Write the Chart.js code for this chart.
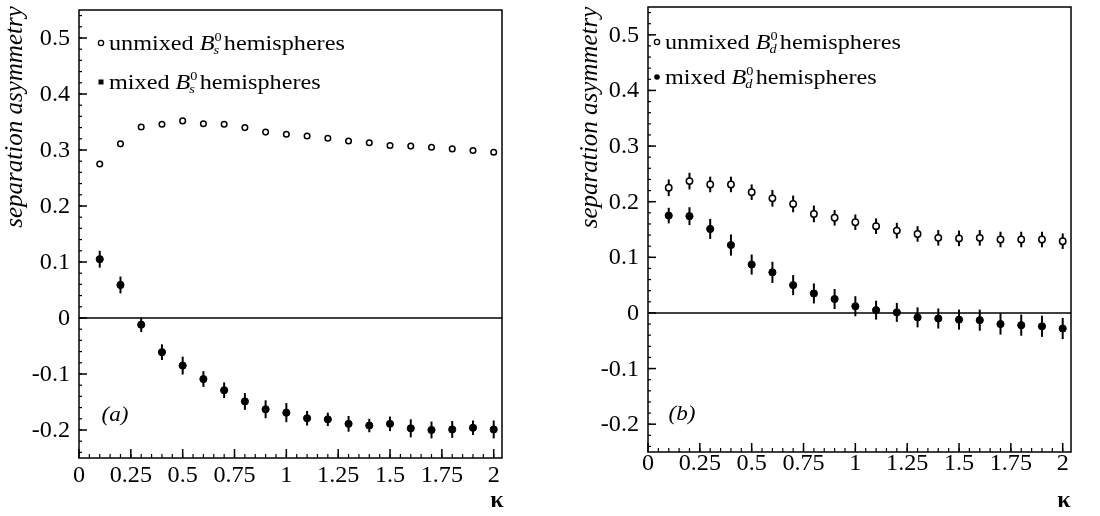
<!DOCTYPE html>
<html>
<head>
<meta charset="utf-8">
<script src="https://cdn.jsdelivr.net/npm/chart.js@4.4.1/dist/chart.umd.min.js"></script>
<style>
  body { margin: 0; background: #fff; }
  .panel { position: absolute; top: 0; width: 550px; height: 516px; }
  #wrapA { left: 0; }
  #wrapB { left: 550px; }
</style>
</head>
<body>
<div class="panel" id="wrapA"><canvas id="chartA" width="550" height="516"></canvas></div>
<div class="panel" id="wrapB"><canvas id="chartB" width="550" height="516"></canvas></div>
<script>
// kappa values of the jet-charge weighting
const kappa = [0.1, 0.2, 0.3, 0.4, 0.5, 0.6, 0.7, 0.8, 0.9, 1.0,
               1.1, 1.2, 1.3, 1.4, 1.5, 1.6, 1.7, 1.8, 1.9, 2.0];

// panel (a)
const unmixedA = [0.275, 0.311, 0.341, 0.346, 0.352, 0.347, 0.346, 0.340, 0.332, 0.328,
                  0.325, 0.321, 0.316, 0.313, 0.308, 0.307, 0.305, 0.302, 0.299, 0.296];
const unmixedAErr = [0.004, 0.004, 0.004, 0.004, 0.004, 0.004, 0.004, 0.004, 0.004, 0.004,
                     0.004, 0.004, 0.004, 0.004, 0.004, 0.004, 0.004, 0.004, 0.004, 0.004];
const mixedA = [0.105, 0.059, -0.012, -0.061, -0.085, -0.109, -0.129, -0.149, -0.163, -0.169,
                -0.179, -0.181, -0.189, -0.192, -0.189, -0.197, -0.200, -0.199, -0.196, -0.199];
const mixedAErr = [0.015, 0.015, 0.013, 0.014, 0.016, 0.014, 0.014, 0.015, 0.016, 0.017,
                   0.013, 0.012, 0.014, 0.012, 0.013, 0.016, 0.015, 0.015, 0.013, 0.016];

// panel (b)
const unmixedB = [0.225, 0.237, 0.231, 0.231, 0.217, 0.206, 0.196, 0.178, 0.171, 0.163,
                  0.156, 0.148, 0.142, 0.135, 0.134, 0.135, 0.132, 0.132, 0.132, 0.129];
const unmixedBErr = [0.015, 0.015, 0.014, 0.014, 0.014, 0.015, 0.015, 0.015, 0.014, 0.014,
                     0.014, 0.014, 0.014, 0.014, 0.014, 0.014, 0.014, 0.014, 0.014, 0.014];
const mixedB = [0.175, 0.174, 0.151, 0.122, 0.087, 0.073, 0.050, 0.035, 0.025, 0.012,
                0.005, 0.001, -0.008, -0.010, -0.012, -0.013, -0.020, -0.022, -0.024, -0.028];
const mixedBErr = [0.014, 0.016, 0.018, 0.019, 0.018, 0.019, 0.018, 0.018, 0.018, 0.018,
                   0.017, 0.017, 0.018, 0.018, 0.018, 0.019, 0.019, 0.019, 0.019, 0.019];

const xTicks = [0, 0.25, 0.5, 0.75, 1, 1.25, 1.5, 1.75, 2];
const xTickLabels = ['0', '0.25', '0.5', '0.75', '1', '1.25', '1.5', '1.75', '2'];
const yTicks = [-0.2, -0.1, 0, 0.1, 0.2, 0.3, 0.4, 0.5];
const yTickLabels = ['-0.2', '-0.1', '0', '0.1', '0.2', '0.3', '0.4', '0.5'];

const SERIF = '"Liberation Serif", "Times New Roman", Times, serif';

function stretchText(ctx, str, x, y, font, sx, align, baseline) {
  ctx.save();
  ctx.translate(x, y);
  ctx.scale(sx, 1);
  ctx.font = font;
  ctx.textAlign = align || 'left';
  ctx.textBaseline = baseline || 'middle';
  ctx.fillText(str, 0, 0);
  ctx.restore();
}

function legendRow(ctx, x, y, word, sub) {
  ctx.save();
  ctx.translate(x, y + 7);
  ctx.scale(1.1, 1);
  ctx.textBaseline = 'alphabetic';
  ctx.fillStyle = '#000';
  let cx = 0;
  ctx.font = '22px ' + SERIF;
  ctx.fillText(word + ' ', cx, 0);
  cx += ctx.measureText(word + ' ').width;
  ctx.font = 'italic 22px ' + SERIF;
  ctx.fillText('B', cx, 0);
  cx += ctx.measureText('B').width;
  ctx.font = '13px ' + SERIF;
  ctx.fillText('0', cx, -9);
  ctx.font = 'italic 13px ' + SERIF;
  ctx.fillText(sub, cx - 1, 4);
  cx += ctx.measureText('0').width + 2;
  ctx.font = '22px ' + SERIF;
  ctx.fillText('hemispheres', cx, 0);
  ctx.restore();
}

function framePlugin(p) {
  return {
    id: 'frame',
    beforeDatasetsDraw(chart) {
      const ctx = chart.ctx;
      const a = chart.chartArea;
      const xs = chart.scales.x, ys = chart.scales.y;
      ctx.save();
      ctx.strokeStyle = '#000';
      // zero line
      ctx.lineWidth = 1.6;
      ctx.beginPath();
      ctx.moveTo(a.left, ys.getPixelForValue(0));
      ctx.lineTo(a.right, ys.getPixelForValue(0));
      ctx.stroke();
      // error bars
      ctx.lineWidth = 2;
      chart.data.datasets.forEach(ds => {
        ds.data.forEach((pt, i) => {
          const px = xs.getPixelForValue(pt.x);
          ctx.beginPath();
          ctx.moveTo(px, ys.getPixelForValue(pt.y - ds.errors[i]));
          ctx.lineTo(px, ys.getPixelForValue(pt.y + ds.errors[i]));
          ctx.stroke();
        });
      });
      ctx.restore();
    },
    afterDraw(chart) {
      const ctx = chart.ctx;
      const a = chart.chartArea;
      const xs = chart.scales.x, ys = chart.scales.y;
      ctx.save();
      ctx.strokeStyle = '#000';
      ctx.fillStyle = '#000';
      // box
      ctx.lineWidth = 1.5;
      ctx.strokeRect(a.left, a.top, a.right - a.left, a.bottom - a.top);
      // inward ticks on the left axis
      ctx.lineWidth = 1.2;
      for (let v = -0.24; v < 0.55; v += 0.02) {
        const py = ys.getPixelForValue(v);
        ctx.beginPath();
        ctx.moveTo(a.left, py);
        ctx.lineTo(a.left + 3, py);
        ctx.stroke();
      }
      ctx.lineWidth = 1.5;
      yTicks.forEach(v => {
        const py = ys.getPixelForValue(v);
        ctx.beginPath();
        ctx.moveTo(a.left, py);
        ctx.lineTo(a.left + 8, py);
        ctx.stroke();
      });
      // inward ticks on the bottom axis
      ctx.lineWidth = 1.2;
      for (let v = 0.05; v < 2.04; v += 0.05) {
        const px = xs.getPixelForValue(v);
        ctx.beginPath();
        ctx.moveTo(px, a.bottom);
        ctx.lineTo(px, a.bottom - 4);
        ctx.stroke();
      }
      ctx.lineWidth = 1.5;
      xTicks.forEach(v => {
        const px = xs.getPixelForValue(v);
        ctx.beginPath();
        ctx.moveTo(px, a.bottom);
        ctx.lineTo(px, a.bottom - 9);
        ctx.stroke();
      });
      // tick labels
      yTicks.forEach((v, i) => {
        stretchText(ctx, yTickLabels[i], a.left - 9, ys.getPixelForValue(v) + 1,
          '23px ' + SERIF, 1.05, 'right');
      });
      xTicks.forEach((v, i) => {
        stretchText(ctx, xTickLabels[i], xs.getPixelForValue(v), a.bottom + p.xLabelGap,
          '23px ' + SERIF, 1.05, 'center');
      });
      // axis title
      ctx.save();
      ctx.translate(p.titleX, (a.top + a.bottom) / 2 - p.titleShift);
      ctx.rotate(-Math.PI / 2);
      ctx.font = 'italic 25px ' + SERIF;
      ctx.textAlign = 'center';
      ctx.textBaseline = 'middle';
      ctx.fillText('separation asymmetry', 0, 0);
      ctx.restore();
      stretchText(ctx, 'κ', p.kappaX, 501, 'bold 24px ' + SERIF, 1.0, 'center');
      // panel tag
      stretchText(ctx, p.tag, p.tagX, p.tagY, 'italic 22px ' + SERIF, 1.05, 'center');
      // legend
      const lx = a.left + p.legendDx;
      ctx.lineWidth = 1.3;
      ctx.fillStyle = '#fff';
      ctx.beginPath();
      ctx.arc(lx, p.legendY[0], 2.6, 0, Math.PI * 2);
      ctx.fill();
      ctx.stroke();
      ctx.fillStyle = '#000';
      if (p.squareKey) {
        ctx.fillRect(lx - 2.5, p.legendY[1] - 2.5, 5, 5);
      } else {
        ctx.beginPath();
        ctx.arc(lx, p.legendY[1], 2.8, 0, Math.PI * 2);
        ctx.fill();
      }
      legendRow(ctx, lx + 8, p.legendY[0], 'unmixed', p.sub);
      legendRow(ctx, lx + 8, p.legendY[1], 'mixed', p.sub);
      ctx.restore();
    }
  };
}

function makeChart(id, unmixed, unmixedErr, mixed, mixedErr, p) {
  const toPoints = vals => kappa.map((k, i) => ({ x: k, y: vals[i] }));
  return new Chart(document.getElementById(id), {
    type: 'scatter',
    data: {
      datasets: [
        {
          label: 'unmixed',
          data: toPoints(unmixed),
          errors: unmixedErr,
          pointStyle: 'circle',
          pointRadius: p.openRadius,
          backgroundColor: '#fff',
          borderColor: '#000',
          borderWidth: 1.5,
        },
        {
          label: 'mixed',
          data: toPoints(mixed),
          errors: mixedErr,
          pointStyle: 'circle',
          pointRadius: 3.6,
          backgroundColor: '#000',
          borderColor: '#000',
          borderWidth: 1,
        },
      ],
    },
    options: {
      responsive: false,
      animation: false,
      layout: { padding: { left: 0, right: p.padRight, top: p.padTop, bottom: 0 } },
      plugins: { legend: { display: false }, tooltip: { enabled: false } },
      scales: {
        x: {
          type: 'linear', min: 0, max: 2.04,
          ticks: { display: false },
          grid: { display: false },
          border: { display: false },
          afterFit: s => { s.height = p.xAxisHeight; },
        },
        y: {
          min: -0.25, max: 0.55,
          ticks: { display: false },
          grid: { display: false },
          border: { display: false },
          afterFit: s => { s.width = p.yAxisWidth; },
        },
      },
    },
    plugins: [framePlugin(p)],
  });
}

makeChart('chartA', unmixedA, unmixedAErr, mixedA, mixedAErr, {
  padRight: 48, padTop: 10, xAxisHeight: 58, yAxisWidth: 79,
  xLabelGap: 18, titleX: 15, titleShift: 117, kappaX: 497, tag: '(a)', tagX: 115, tagY: 415,
  legendDx: 22, legendY: [43, 82], squareKey: true, sub: 's', openRadius: 2.8,
});
makeChart('chartB', unmixedB, unmixedBErr, mixedB, mixedBErr, {
  padRight: 29, padTop: 7, xAxisHeight: 64, yAxisWidth: 98,
  xLabelGap: 12, titleX: 40, titleShift: 112, kappaX: 514, tag: '(b)', tagX: 132, tagY: 414,
  legendDx: 9, legendY: [42, 77], squareKey: false, sub: 'd', openRadius: 3.2,
});
</script>
</body>
</html>
